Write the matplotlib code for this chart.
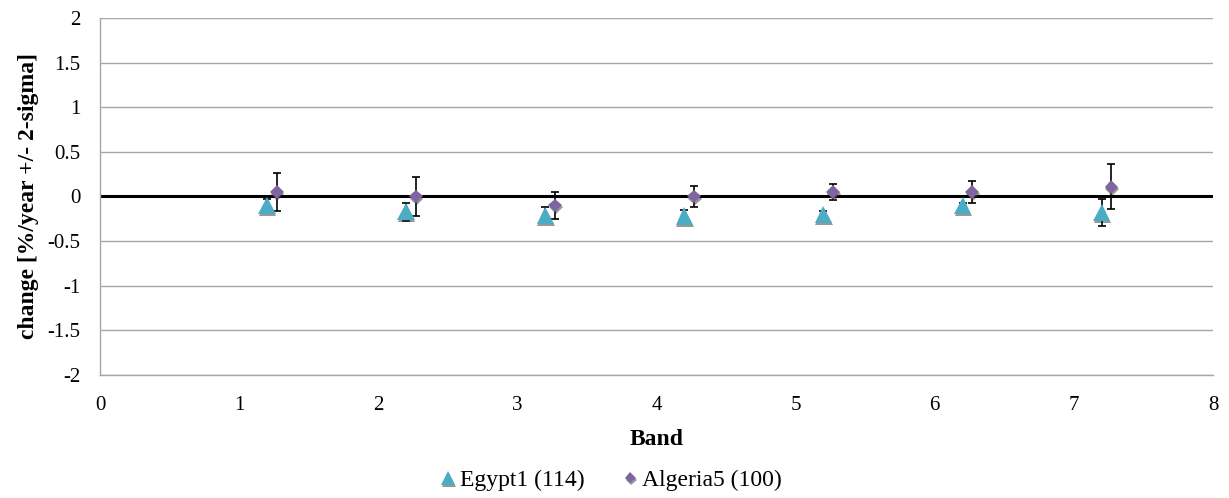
import numpy as np
import matplotlib
matplotlib.use("Agg")
import matplotlib.pyplot as plt
import matplotlib.patheffects as pe

# Trend per band, two desert calibration sites
BANDS = [1, 2, 3, 4, 5, 6, 7]

EGYPT_LABEL = "Egypt1 (114)"
EGYPT_VAL   = [-0.10, -0.17, -0.21, -0.22, -0.20, -0.10, -0.18]
EGYPT_ERR   = [0.07, 0.10, 0.09, 0.07, 0.04, 0.03, 0.15]

ALGERIA_LABEL = "Algeria5 (100)"
ALGERIA_VAL   = [0.05, 0.00, -0.10, 0.00, 0.05, 0.05, 0.11]
ALGERIA_ERR   = [0.21, 0.22, 0.15, 0.12, 0.09, 0.12, 0.25]

EGYPT_COLOR   = "#4BACC6"
ALGERIA_COLOR = "#8064A2"
GRID_COLOR    = "#A6A6A6"

SERIF = ["Liberation Serif", "DejaVu Serif"]

fig = plt.figure(figsize=(12.29, 4.98), dpi=100)
ax = fig.add_axes([0.0814, 0.247, 0.9056, 0.717])

x_eg = np.array(BANDS) + 0.2
x_al = np.array(BANDS) + 0.27

shadow = [pe.SimplePatchShadow(offset=(0.5, -1.5), shadow_rgbFace="#333333", alpha=0.5),
          pe.Normal()]

ax.errorbar(x_eg, EGYPT_VAL, yerr=EGYPT_ERR, fmt="none", ecolor="black",
            elinewidth=1.2, capsize=3, capthick=1.2, zorder=3)
ax.plot(x_eg, EGYPT_VAL, linestyle="none", marker="^", markersize=12.5,
        color=EGYPT_COLOR, markeredgewidth=0, zorder=4,
        path_effects=shadow, label=EGYPT_LABEL)

ax.errorbar(x_al, ALGERIA_VAL, yerr=ALGERIA_ERR, fmt="none", ecolor="black",
            elinewidth=1.2, capsize=3, capthick=1.2, zorder=3)
ax.plot(x_al, ALGERIA_VAL, linestyle="none", marker="D", markersize=7,
        color=ALGERIA_COLOR, markeredgewidth=0, zorder=5,
        path_effects=shadow, label=ALGERIA_LABEL)

ax.axhline(0, color="black", linewidth=2.2, zorder=2)

ax.set_xlim(0, 8)
ax.set_ylim(-2, 2)
ax.set_xticks(range(0, 9))
ax.set_yticks(np.arange(-2, 2.01, 0.5))
ax.set_yticklabels(["-2", "-1.5", "-1", "-0.5", "0", "0.5", "1", "1.5", "2"])
ax.grid(axis="y", color=GRID_COLOR, linewidth=1.0, zorder=0)
ax.set_axisbelow(True)

for side in ("top", "right"):
    ax.spines[side].set_visible(False)
for side in ("left", "bottom"):
    ax.spines[side].set_color(GRID_COLOR)
    ax.spines[side].set_linewidth(1.0)

ax.tick_params(axis="both", length=0, labelsize=15)
ax.tick_params(axis="x", pad=15)
ax.tick_params(axis="y", pad=14)
for lbl in ax.get_xticklabels() + ax.get_yticklabels():
    lbl.set_family(SERIF)

ax.set_xlabel("Band", fontsize=17, fontweight="bold", family=SERIF, labelpad=10)
ax.set_ylabel("change [%/year +/- 2-sigma]", fontsize=17, fontweight="bold",
              family=SERIF, labelpad=6)

fig.legend(loc="center", bbox_to_anchor=(0.497, 0.036), ncol=2, frameon=False,
           prop={"family": SERIF, "size": 17}, handlelength=0.7, handletextpad=0.15,
           columnspacing=1.6, markerscale=0.8)

fig.savefig("out.png", dpi=100)
